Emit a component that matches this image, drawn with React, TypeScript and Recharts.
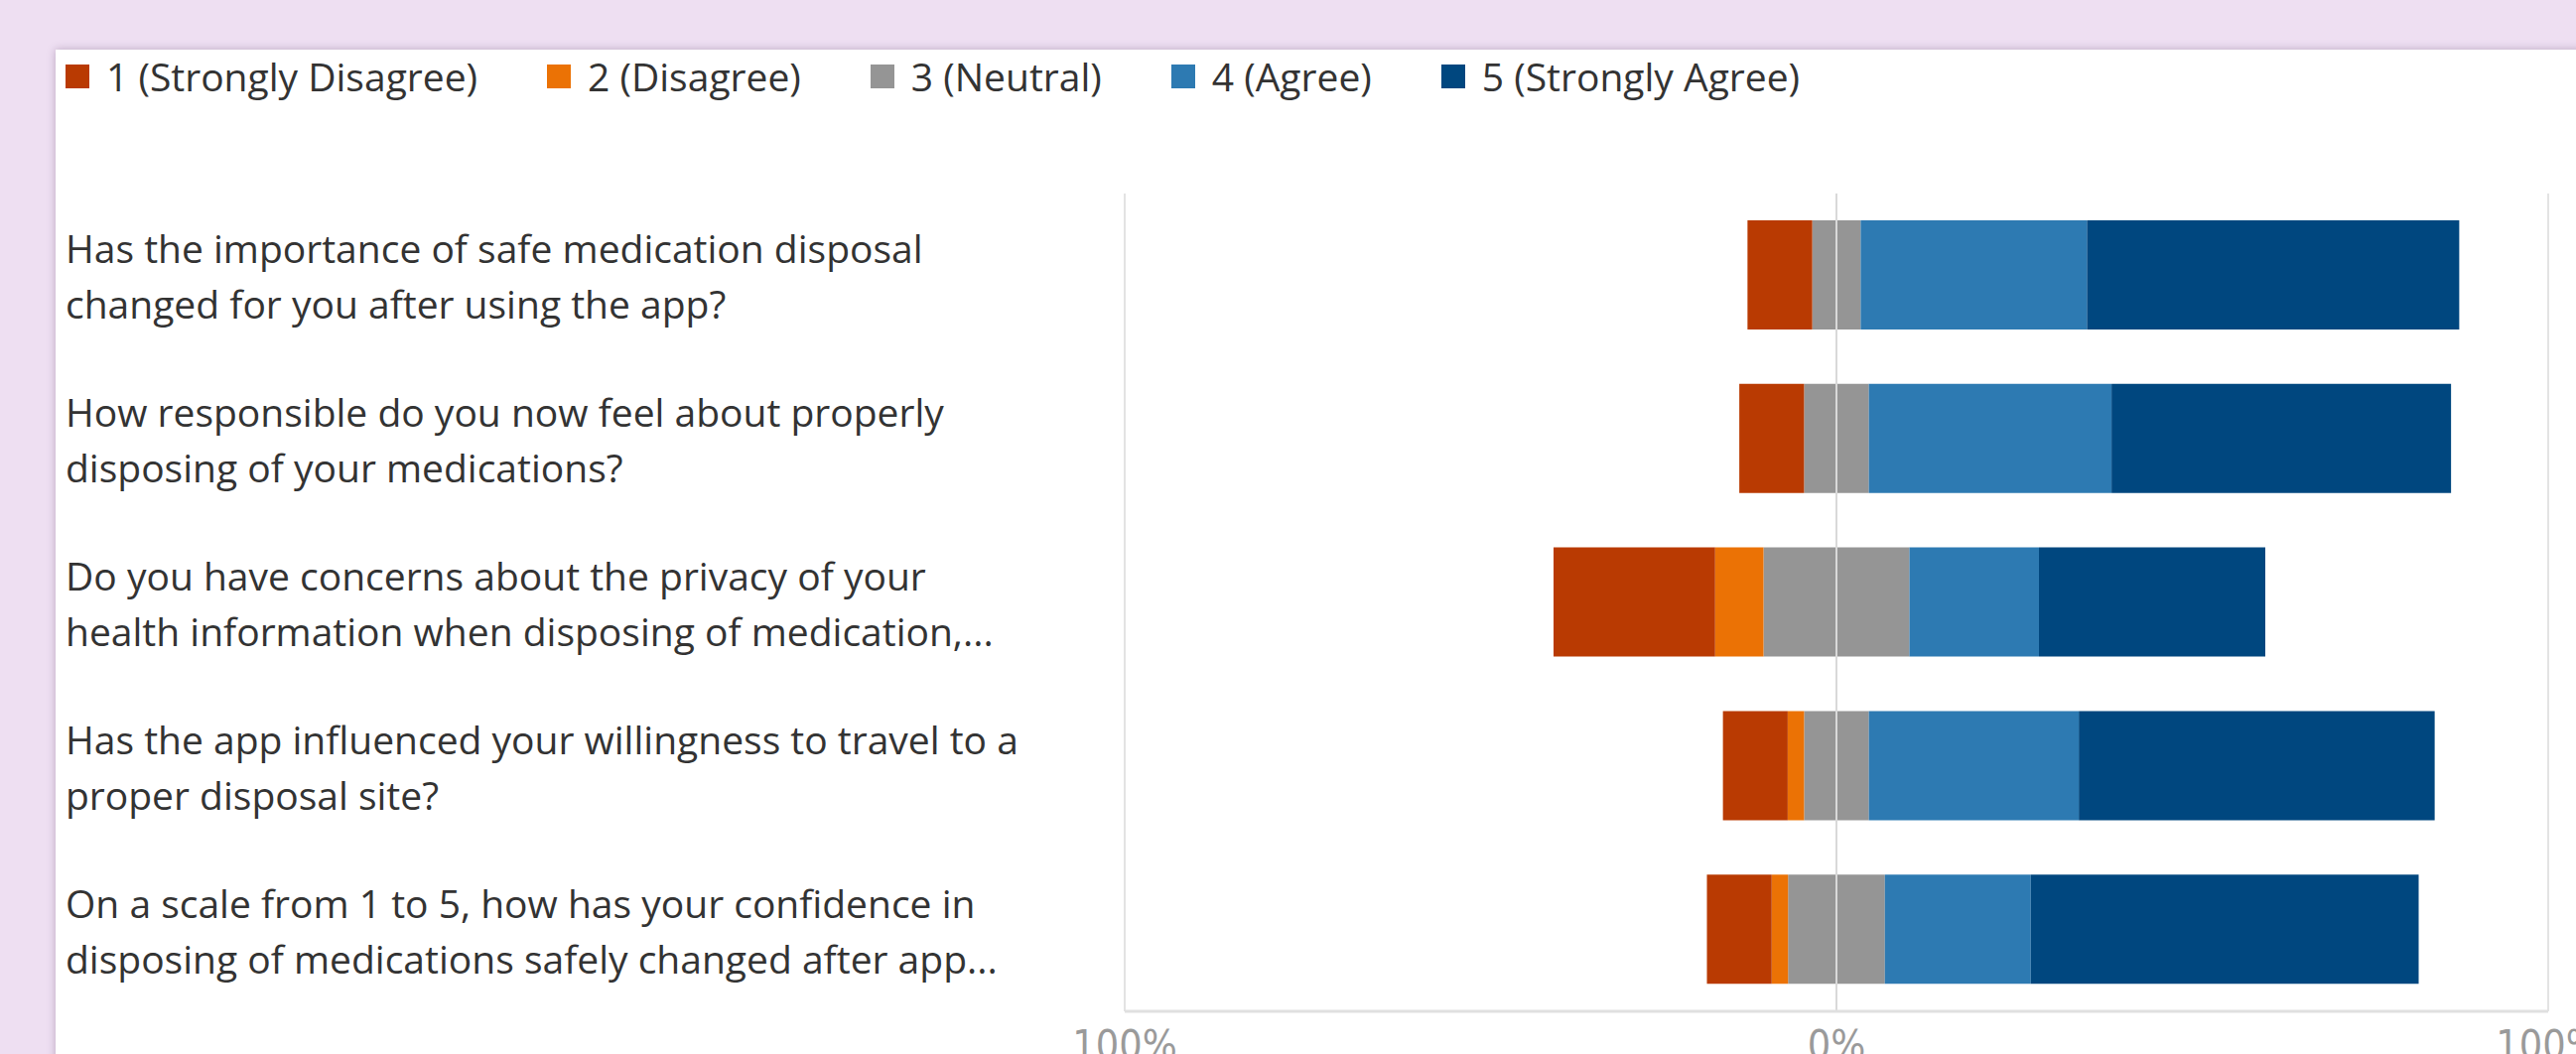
import React from "react";
import { BarChart, Bar, XAxis, YAxis, CartesianGrid, ReferenceLine, Legend } from "recharts";

const questionLines: string[][] = [
  ["Has the importance of safe medication disposal", "changed for you after using the app?"],
  ["How responsible do you now feel about properly", "disposing of your medications?"],
  ["Do you have concerns about the privacy of your", "health information when disposing of medication,..."],
  ["Has the app influenced your willingness to travel to a", "proper disposal site?"],
  ["On a scale from 1 to 5, how has your confidence in", "disposing of medications safely changed after app..."],
];
const categories = questionLines.map((l) => l.join(" "));

// percentages of respondents
const stronglyDisagree = [9.1, 9.1, 22.7, 9.1, 9.1];
const disagree = [0, 0, 6.8, 2.3, 2.3];
const neutral = [6.8, 9.1, 20.5, 9.1, 13.6];
const agree = [31.8, 34.1, 18.2, 29.5, 20.5];
const stronglyAgree = [52.3, 47.7, 31.8, 50.0, 54.5];

const legendLabels = ["1 (Strongly Disagree)", "2 (Disagree)", "3 (Neutral)", "4 (Agree)", "5 (Strongly Agree)"];
const legendColors = ["#B93A02", "#EB7205", "#959595", "#2D7AB2", "#00477F"];
const xTicks = [-100, 0, 100];

const data = categories.map((name, i) => ({
  name,
  nNeg: -neutral[i] / 2,
  dNeg: -disagree[i],
  sdNeg: -stronglyDisagree[i],
  nPos: neutral[i] / 2,
  a: agree[i],
  sa: stronglyAgree[i],
}));

const TEXT_FONT = "'Open Sans', 'Noto Sans', sans-serif";

const QuestionTick = (props: any) => {
  const { y, payload } = props;
  const idx = categories.indexOf(payload.value);
  const lines = idx >= 0 ? questionLines[idx] : [String(payload.value)];
  return (
    <text x={66} y={y} fill="#333333" fontFamily={TEXT_FONT} fontSize={39} textAnchor="start">
      <tspan x={66} dy={-12}>{lines[0]}</tspan>
      {lines[1] ? <tspan x={66} dy={56}>{lines[1]}</tspan> : null}
    </text>
  );
};

const PercentTick = (props: any) => {
  const { x, y, payload } = props;
  return (
    <text
      x={x}
      y={y + 40}
      fill="#9a9a9a"
      fontFamily="'Liberation Sans Narrow', 'DejaVu Sans Condensed', 'Liberation Sans', sans-serif"
      fontSize={41}
      textAnchor="middle"
    >
      {`${Math.abs(payload.value)}%`}
    </text>
  );
};

const LegendContent = () => (
  <div style={{ display: "flex", alignItems: "center", fontFamily: TEXT_FONT, fontSize: 39, color: "#333333", whiteSpace: "nowrap" }}>
    {legendLabels.map((label, i) => (
      <div key={label} style={{ display: "flex", alignItems: "center", marginRight: 70 }}>
        <span style={{ display: "inline-block", width: 24, height: 24, background: legendColors[i], marginRight: 17 }} />
        <span>{label}</span>
      </div>
    ))}
  </div>
);

export default function App() {
  return (
    <div style={{ position: "fixed", left: 0, top: 0, width: 2595, height: 1062, background: "#EEDFF2", overflow: "hidden" }}>
      <div
        style={{
          position: "absolute",
          left: 56,
          top: 50,
          width: 2600,
          height: 1100,
          background: "#ffffff",
          boxShadow: "0 0 8px rgba(90,60,100,0.35)",
        }}
      />
      <div style={{ position: "absolute", left: 0, top: 0 }}>
        <BarChart
          width={2595}
          height={1062}
          data={data}
          layout="vertical"
          stackOffset="sign"
          margin={{ top: 195, right: 28, bottom: 0, left: 0 }}
        >
          <CartesianGrid horizontal={false} stroke="#e3e3e3" strokeWidth={2} />
          <XAxis
            type="number"
            domain={[-100, 100]}
            ticks={xTicks}
            height={43}
            axisLine={{ stroke: "#e0e0e0", strokeWidth: 3 }}
            tickLine={false}
            tick={<PercentTick />}
            interval={0}
          />
          <YAxis
            type="category"
            dataKey="name"
            width={1133}
            axisLine={false}
            tickLine={false}
            tick={<QuestionTick />}
            interval={0}
          />
          <Legend
            layout="horizontal"
            verticalAlign="middle"
            align="center"
            content={<LegendContent />}
            wrapperStyle={{ top: 50, left: 66, width: "auto", height: "auto" }}
          />
          <Bar dataKey="nNeg" stackId="s" fill={legendColors[2]} barSize={110} isAnimationActive={false} />
          <Bar dataKey="dNeg" stackId="s" fill={legendColors[1]} barSize={110} isAnimationActive={false} />
          <Bar dataKey="sdNeg" stackId="s" fill={legendColors[0]} barSize={110} isAnimationActive={false} />
          <Bar dataKey="nPos" stackId="s" fill={legendColors[2]} barSize={110} isAnimationActive={false} />
          <Bar dataKey="a" stackId="s" fill={legendColors[3]} barSize={110} isAnimationActive={false} />
          <Bar dataKey="sa" stackId="s" fill={legendColors[4]} barSize={110} isAnimationActive={false} />
          <ReferenceLine x={0} stroke="#d9d9d9" strokeWidth={2} />
        </BarChart>
      </div>
    </div>
  );
}
